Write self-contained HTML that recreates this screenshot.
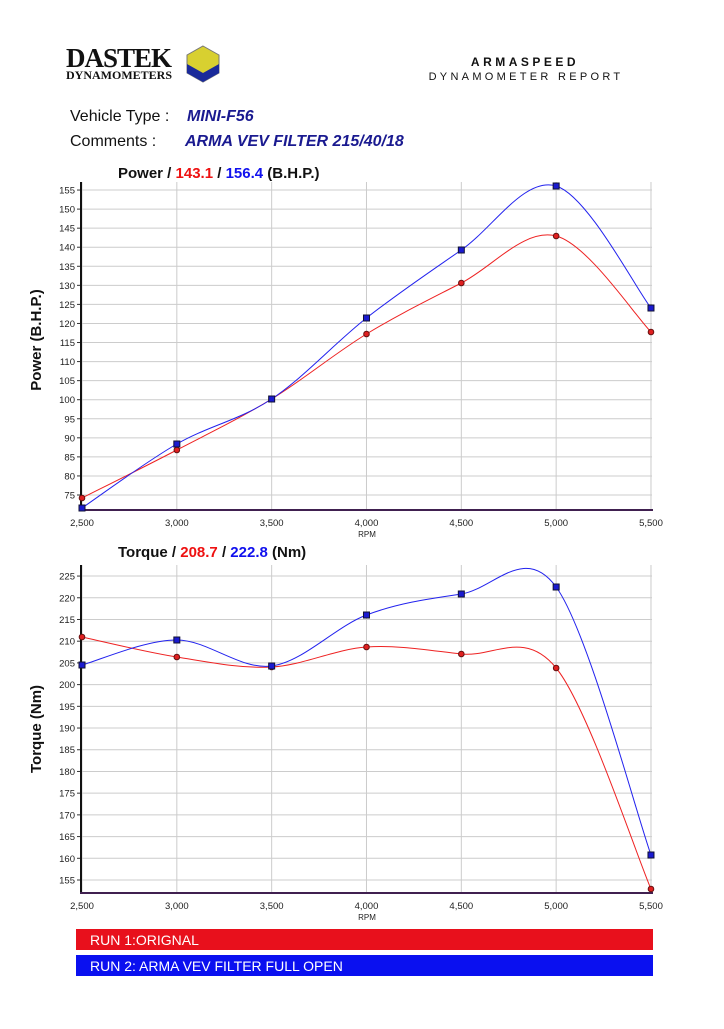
<!DOCTYPE html>
<html><head><meta charset="utf-8"><style>
body{margin:0;background:#fff;width:724px;height:1024px;overflow:hidden;font-family:"Liberation Sans",sans-serif}
</style></head><body>
<svg id="s" width="724" height="1024" xmlns="http://www.w3.org/2000/svg" font-family="Liberation Sans, sans-serif">
<text x="66" y="67" font-family="Liberation Serif, serif" font-weight="bold" font-size="27" fill="#111" letter-spacing="-1">DASTEK</text>
<text x="66" y="79" font-family="Liberation Serif, serif" font-weight="bold" font-size="12" fill="#111">DYNAMOMETERS</text>
<polygon points="203,46 219,55 219,73 203,82 187,73 187,55" fill="#d8d030" stroke="#777" stroke-width="1"/>
<polygon points="187,64 203,73 219,64 219,73 203,82 187,73" fill="#1a2a9a"/>
<text x="525" y="66" font-size="12" font-weight="bold" letter-spacing="3.5" text-anchor="middle" fill="#111">ARMASPEED</text>
<text x="526" y="80" font-size="11" letter-spacing="3.3" text-anchor="middle" fill="#111">DYNAMOMETER REPORT</text>
<text x="70" y="121" font-size="16" fill="#111">Vehicle Type :</text>
<text x="187" y="121" font-size="16" font-weight="bold" font-style="italic" fill="#1a1a90">MINI-F56</text>
<text x="70" y="146" font-size="16" fill="#111">Comments :</text>
<text x="185" y="146" font-size="16" font-weight="bold" font-style="italic" fill="#1a1a90">ARMA VEV FILTER 215/40/18</text>
<text x="118" y="178" font-size="15" font-weight="bold" fill="#111">Power / <tspan fill="#ee1111">143.1</tspan> /  <tspan fill="#1111ee">156.4</tspan>  (B.H.P.)</text>
<text x="118" y="557" font-size="15" font-weight="bold" fill="#111">Torque / <tspan fill="#ee1111">208.7</tspan> / <tspan fill="#1111ee">222.8</tspan> (Nm)</text>
<text transform="translate(41,340) rotate(-90)" font-size="15" font-weight="bold" text-anchor="middle" fill="#111">Power (B.H.P.)</text>
<text transform="translate(41,729) rotate(-90)" font-size="15" font-weight="bold" text-anchor="middle" fill="#111">Torque (Nm)</text>
<g id="g"></g>
<rect x="76" y="929" width="577" height="21" fill="#e8101c"/>
<text x="90" y="945" font-size="14" fill="#fff">RUN 1:ORIGNAL</text>
<rect x="76" y="955" width="577" height="21" fill="#0a10f0"/>
<text x="90" y="971" font-size="14" fill="#fff">RUN 2: ARMA VEV FILTER FULL OPEN</text>
</svg>
<script>
var g=document.getElementById('g'),h='';
function X(i){return 82+i*94.83;}
function chart(top,bot,v0,y0,step,n,labels){
 for(var i=0;i<7;i++){h+='<line x1="'+X(i)+'" y1="'+top+'" x2="'+X(i)+'" y2="'+bot+'" stroke="#ccc"/>';
  h+='<text x="'+X(i)+'" y="'+(bot+16)+'" font-size="9.5" text-anchor="middle" fill="#222">'+labels[i]+'</text>';}
 for(var k=0;k<n;k++){var y=y0-k*step;h+='<line x1="80" y1="'+y+'" x2="652" y2="'+y+'" stroke="#ccc"/><line x1="77" y1="'+y+'" x2="81" y2="'+y+'" stroke="#333"/>';
  h+='<text x="75" y="'+(y+3.5)+'" font-size="9.5" text-anchor="end" fill="#222">'+(v0+5*k)+'</text>';}
 h+='<line x1="81" y1="'+top+'" x2="81" y2="'+bot+'" stroke="#111" stroke-width="2"/>';
 h+='<line x1="80" y1="'+bot+'" x2="653" y2="'+bot+'" stroke="#402050" stroke-width="2"/>';
 h+='<text x="367" y="'+(bot+27)+'" font-size="8" text-anchor="middle" fill="#222">RPM</text>';
}
var L=['2,500','3,000','3,500','4,000','4,500','5,000','5,500'];
chart(182,510,75,495,19.06,17,L);
chart(565,893,155,880,21.71,15,L);
function curve(ys,col,sq){
 var p=ys.map(function(y,i){return [X(i),y];}),d='M'+p[0];
 for(var i=0;i<p.length-1;i++){var a=p[i-1]||p[i],b=p[i],c=p[i+1],e=p[i+2]||c;
  d+=' C'+(b[0]+(c[0]-a[0])/6)+','+(b[1]+(c[1]-a[1])/6)+' '+(c[0]-(e[0]-b[0])/6)+','+(c[1]-(e[1]-b[1])/6)+' '+c[0]+','+c[1];}
 h+='<path d="'+d+'" fill="none" stroke="'+col+'" stroke-width="1"/>';
 p.forEach(function(q){h+=sq?'<rect x="'+(q[0]-3)+'" y="'+(q[1]-3)+'" width="6" height="6" fill="#1a1ad0" stroke="#113"/>':'<circle cx="'+q[0]+'" cy="'+q[1]+'" r="2.8" fill="#e02020" stroke="#611"/>';});
}
curve([498,450,399,334,283,236,332],'#ee2222',0);
curve([508,444,399,318,250,186,308],'#2222ee',1);
curve([637,657,667,647,654,668,889],'#ee2222',0);
curve([665,640,666,615,594,587,855],'#2222ee',1);
g.innerHTML=h;
</script>
</body></html>
